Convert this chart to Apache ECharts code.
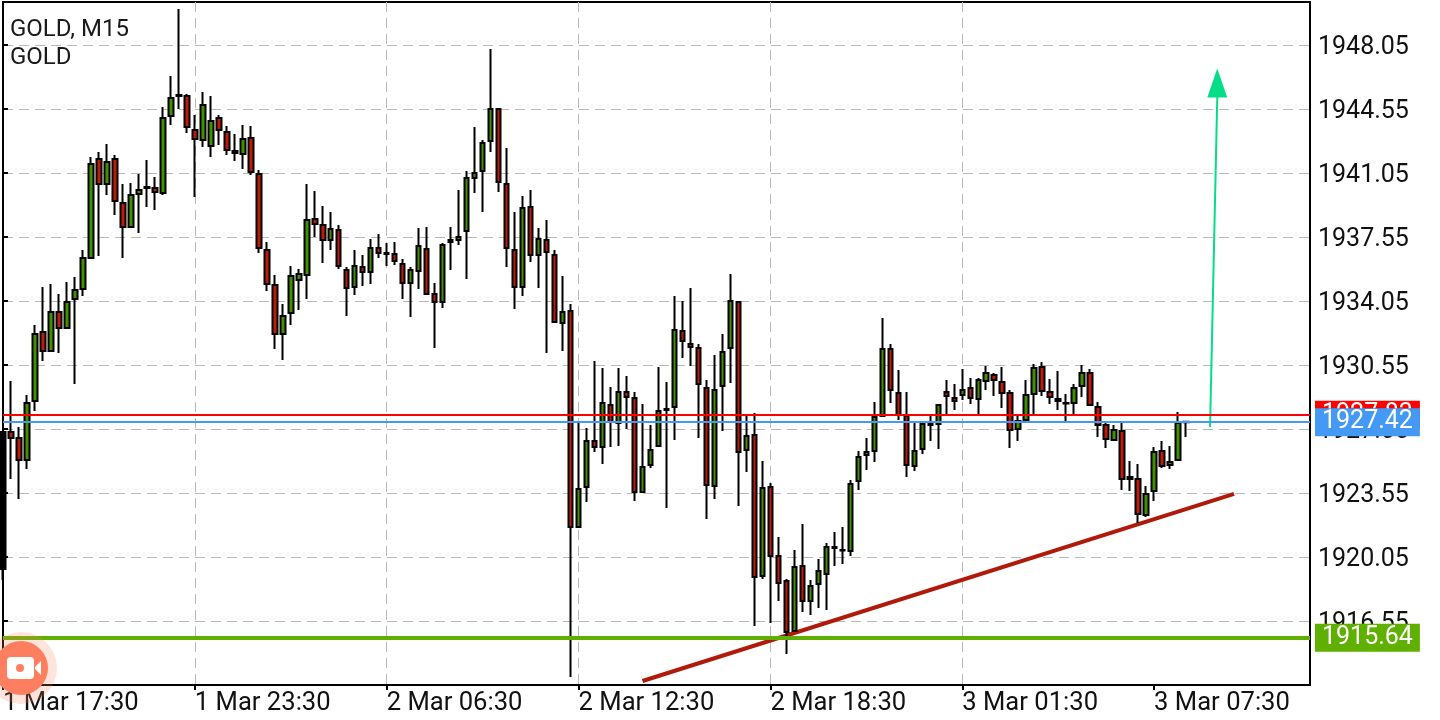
<!DOCTYPE html>
<html>
<head>
<meta charset="utf-8">
<title>GOLD, M15</title>
<script src="https://cdn.jsdelivr.net/npm/echarts@6/dist/echarts.min.js"></script>
<style>
  html, body { margin: 0; padding: 0; background: #fff; }
  #main { width: 1440px; height: 720px; }
</style>
</head>
<body>
<div id="main"></div>
<script>
// one row per M15 bar: open, close, low, high
const bars = [
  [1919.39,1926.89,1918.79,1926.94],[1926.89,1926.56,1924.31,1929.67],[1926.56,1925.35,1923.22,1927.16],[1925.35,1928.47,1924.86,1928.91],
  [1928.58,1932.25,1928.03,1932.74],[1932.35,1931.32,1930.77,1934.81],[1931.32,1933.45,1931.26,1934.98],[1933.45,1932.57,1931.21,1934.43],
  [1932.57,1933.99,1932.52,1935.09],[1934.16,1934.65,1929.51,1935.36],[1934.71,1936.40,1934.32,1936.84],[1936.40,1941.54,1936.35,1941.92],
  [1941.81,1940.45,1936.51,1942.20],[1940.45,1941.65,1939.85,1942.64],[1941.81,1939.52,1938.75,1942.03],[1939.41,1938.10,1936.40,1940.45],
  [1938.10,1939.85,1938.04,1940.50],[1939.90,1940.12,1937.77,1940.99],[1940.23,1940.28,1939.19,1941.76],[1940.23,1940.01,1939.03,1940.83],
  [1939.96,1944.06,1939.85,1944.66],[1944.17,1945.15,1943.67,1946.36],[1945.26,1945.32,1944.55,1950.02],[1945.26,1943.57,1943.24,1945.37],
  [1943.40,1942.91,1939.74,1944.22],[1942.85,1944.77,1942.47,1945.48],[1942.53,1943.89,1941.92,1945.26],[1944.06,1943.40,1942.58,1944.22],
  [1943.29,1942.31,1942.03,1943.62],[1942.25,1942.14,1941.71,1943.18],[1942.09,1942.91,1941.27,1943.67],[1942.96,1941.10,1940.94,1943.62],
  [1940.99,1936.95,1936.68,1941.21],[1936.84,1934.98,1934.60,1937.28],[1934.92,1932.25,1931.42,1935.47],[1932.25,1933.23,1930.82,1933.88],
  [1933.39,1935.42,1932.74,1935.96],[1935.20,1935.53,1933.56,1935.80],[1935.47,1938.48,1934.16,1940.45],[1938.53,1938.26,1937.55,1940.06],
  [1938.20,1937.39,1936.13,1939.25],[1937.39,1937.99,1936.84,1938.92],[1937.93,1935.96,1935.80,1938.20],[1935.75,1934.76,1933.23,1935.91],
  [1934.81,1935.96,1934.38,1936.84],[1935.91,1935.63,1934.87,1936.57],[1935.63,1936.95,1934.98,1937.44],[1936.95,1936.68,1936.40,1937.71],
  [1936.68,1936.62,1935.96,1937.22],[1936.62,1936.24,1936.02,1937.28],[1936.07,1935.03,1934.16,1936.35],[1935.03,1935.75,1933.17,1935.91],
  [1935.69,1937.06,1934.71,1938.04],[1936.89,1934.43,1934.38,1938.10],[1934.43,1933.99,1931.48,1935.03],[1933.99,1937.11,1933.67,1937.22],
  [1937.28,1937.39,1935.75,1938.10],[1937.39,1937.55,1937.11,1940.12],[1937.88,1940.78,1935.25,1941.16],[1940.78,1941.05,1939.96,1943.57],
  [1941.16,1942.69,1938.92,1942.85],[1942.80,1944.55,1942.20,1947.83],[1944.55,1940.56,1940.01,1944.60],[1940.45,1936.95,1935.91,1942.42],
  [1936.84,1934.81,1933.61,1938.92],[1934.81,1939.13,1934.32,1939.79],[1939.19,1936.57,1936.18,1940.12],[1936.57,1937.44,1934.76,1938.04],
  [1937.39,1936.73,1931.21,1938.48],[1936.57,1932.90,1932.85,1936.84],[1932.85,1933.45,1931.32,1935.42],[1933.50,1921.69,1913.49,1933.88],
  [1921.69,1923.77,1921.64,1927.38],[1923.88,1926.39,1923.06,1927.10],[1926.39,1926.07,1925.79,1930.77],[1926.07,1928.47,1925.13,1930.39],
  [1928.36,1927.43,1926.07,1929.35],[1927.38,1929.07,1926.12,1930.39],[1929.07,1928.80,1927.05,1929.95],[1928.75,1923.60,1923.11,1929.07],
  [1923.60,1924.97,1923.55,1928.42],[1925.08,1925.90,1924.92,1927.27],[1926.12,1928.03,1926.07,1930.44],[1928.09,1928.14,1922.73,1929.62],
  [1928.25,1932.46,1926.45,1934.32],[1932.41,1931.86,1930.93,1934.05],[1931.70,1931.53,1930.50,1934.76],[1931.48,1929.51,1926.56,1931.70],
  [1929.29,1923.99,1922.13,1929.73],[1923.93,1929.18,1923.22,1931.10],[1929.40,1931.26,1926.94,1932.25],[1931.48,1934.05,1929.57,1935.53],
  [1933.99,1925.79,1922.84,1934.05],[1925.90,1926.67,1924.70,1927.87],[1926.72,1918.96,1916.27,1927.92],[1919.01,1923.82,1918.85,1925.30],
  [1923.88,1920.10,1916.44,1924.10],[1920.10,1918.63,1917.64,1921.14],[1918.74,1915.95,1914.75,1918.85],[1916.00,1919.50,1915.95,1920.43],
  [1919.56,1917.64,1917.04,1921.85],[1917.64,1918.46,1916.88,1918.79],[1918.57,1919.28,1917.26,1919.94],[1919.12,1920.60,1917.15,1920.81],
  [1920.60,1920.54,1919.56,1921.42],[1920.43,1920.40,1919.67,1921.69],[1920.38,1924.04,1920.10,1924.26],[1924.20,1925.52,1923.71,1925.85],
  [1925.63,1925.79,1924.81,1926.56],[1925.85,1927.71,1925.25,1928.53],[1927.76,1931.42,1927.71,1933.12],[1931.42,1929.18,1928.47,1931.70],
  [1929.02,1927.81,1927.54,1930.28],[1927.76,1925.08,1924.42,1929.07],[1925.03,1925.85,1924.75,1927.38],[1925.96,1927.32,1925.68,1927.38],
  [1927.32,1927.27,1926.39,1927.87],[1927.32,1928.36,1925.96,1928.42],[1929.07,1928.85,1927.87,1929.73],[1928.75,1928.58,1928.09,1929.51],
  [1928.91,1929.18,1928.64,1930.33],[1929.29,1928.75,1928.42,1929.84],[1928.69,1929.73,1927.87,1929.84],[1929.67,1930.11,1929.18,1930.50],
  [1930.00,1929.73,1928.85,1930.11],[1929.62,1929.02,1928.20,1930.44],[1929.02,1926.99,1926.01,1929.18],[1927.05,1927.49,1926.39,1927.76],
  [1927.54,1928.91,1927.49,1929.73],[1928.96,1930.39,1927.87,1930.60],[1930.44,1929.13,1928.85,1930.71],[1929.07,1928.80,1928.42,1929.78],
  [1928.69,1928.58,1928.09,1930.22],[1928.47,1928.44,1927.43,1928.96],[1928.47,1929.29,1927.81,1929.51],[1929.40,1930.11,1928.80,1930.55],
  [1930.11,1928.36,1928.31,1930.33],[1928.25,1927.27,1926.61,1928.53],[1927.27,1926.50,1926.01,1927.38],[1926.45,1926.99,1926.39,1927.27],
  [1926.94,1924.31,1923.71,1927.38],[1924.42,1924.31,1923.66,1925.30],[1924.31,1922.40,1921.91,1925.13],[1922.35,1923.49,1922.24,1923.93],
  [1923.66,1925.79,1923.11,1926.07],[1925.85,1925.03,1924.92,1926.39],[1925.08,1925.25,1924.86,1926.12],[1925.35,1927.38,1925.30,1927.98],
  [1927.45,1927.42,1926.61,1927.46]
];

const xLabels = ['1 Mar 17:30', '1 Mar 23:30', '2 Mar 06:30', '2 Mar 12:30', '2 Mar 18:30', '3 Mar 01:30', '3 Mar 07:30'];
const xLabelBars = [0, 24, 48, 72, 96, 120, 144];

const redLevel = 1927.83;
const blueLevel = 1927.42;
const greenLevel = 1915.64;

// drawn objects, [bar, price]
const trendLine = [[80, 1913.27], [154, 1923.5]];
const arrowLine = [[151, 1927.16], [151.9, 1945.2]];
const arrowHead = [[151.9, 1945.97]];

const font = 'Roboto';
const gridLine = { show: true, showMinLine: false, showMaxLine: false, lineStyle: { color: '#b8b8b8', width: 1, type: [10, 6] } };

function tag(color) {
  return {
    show: true,
    position: 'end',
    distance: 5,
    formatter: p => p.value.toFixed(2),
    color: '#fff',
    fontFamily: font,
    fontSize: 25,
    backgroundColor: color,
    padding: [4, 7, 0, 7],
    lineHeight: 24
  };
}

function level(value, color, width) {
  return {
    yAxis: value,
    lineStyle: { color: color, width: width, type: 'solid' },
    label: tag(color)
  };
}

// the first bar is cut by the left border, only black shows there
function barItem(b, i) {
  const item = { value: [i].concat(b) };
  if (i === 0) item.itemStyle = { color: '#000' };
  return item;
}

const chart = echarts.init(document.getElementById('main'));

chart.setOption({
  animation: false,
  backgroundColor: '#fff',
  title: {
    text: 'GOLD, M15\nGOLD',
    left: 5,
    top: 11,
    textStyle: { fontFamily: font, fontWeight: 'normal', fontSize: 24, lineHeight: 28, color: '#1a1a1a' }
  },
  grid: { left: 2, top: 2, right: 130, bottom: 35, show: true, borderColor: '#000', borderWidth: 2 },
  xAxis: {
    type: 'value',
    min: 0,
    max: 163.5,
    interval: 8,
    axisLine: { lineStyle: { color: '#000', width: 2 } },
    axisTick: { show: true, length: 5, customValues: xLabelBars, lineStyle: { color: '#000', width: 2 } },
    axisLabel: {
      customValues: xLabelBars,
      formatter: v => xLabels[v / 24],
      align: 'left',
      margin: 6,
      fontFamily: font,
      fontSize: 25.6,
      color: '#111'
    },
    splitLine: gridLine
  },
  yAxis: {
    type: 'value',
    position: 'right',
    min: 1913.05,
    max: 1950.4,
    interval: 3.5,
    axisLine: { show: true, lineStyle: { color: '#000', width: 2 } },
    axisTick: { show: true, length: 5, lineStyle: { color: '#000', width: 2 } },
    axisLabel: {
      showMinLabel: false,
      showMaxLabel: false,
      formatter: v => '{p|' + v.toFixed(2) + '}',
      margin: 8,
      rich: {
        p: { fontFamily: font, fontSize: 25, color: '#111', padding: [6, 0, 0, 0] }
      }
    },
    splitLine: gridLine
  },
  series: [
    {
      // red and blue sit behind the candles
      type: 'line',
      z: 1,
      data: [],
      markLine: {
        silent: true,
        symbol: 'none',
        animation: false,
        data: [level(redLevel, '#ff0000', 2), level(blueLevel, '#4499f5', 2)]
      }
    },
    {
      type: 'line',
      z: 2,
      data: trendLine,
      showSymbol: false,
      lineStyle: { color: '#b01a0a', width: 4 }
    },
    {
      type: 'candlestick',
      z: 3,
      barWidth: 5,
      data: bars.map(barItem),
      itemStyle: {
        color: '#428f00',
        color0: '#c01a0a',
        borderColor: '#000',
        borderColor0: '#000',
        borderColorDoji: '#000',
        borderWidth: 2
      }
    },
    {
      type: 'line',
      z: 4,
      data: arrowLine,
      showSymbol: false,
      lineStyle: { color: '#06dd86', width: 2 }
    },
    {
      type: 'scatter',
      z: 4,
      data: arrowHead,
      symbol: 'triangle',
      symbolSize: [20, 29],
      itemStyle: { color: '#06dd86', opacity: 1 }
    },
    {
      type: 'line',
      z: 5,
      data: [],
      markLine: {
        silent: true,
        symbol: 'none',
        animation: false,
        data: [level(greenLevel, '#5fb000', 4)]
      }
    }
  ],
  graphic: [
    { type: 'circle', z: 100, shape: { cx: 21, cy: 668, r: 36 }, style: { fill: 'rgba(255,130,90,0.22)' } },
    { type: 'circle', z: 101, shape: { cx: 21, cy: 668, r: 27 }, style: { fill: '#fd7f5f' } },
    { type: 'rect', z: 102, shape: { x: 7, y: 657, width: 27, height: 22, r: 4 }, style: { fill: '#fff' } },
    { type: 'polygon', z: 102, shape: { points: [[35, 667], [41, 661], [41, 675], [35, 669]] }, style: { fill: '#fff' } },
    { type: 'circle', z: 103, shape: { cx: 20, cy: 668, r: 4 }, style: { fill: '#fd7f5f' } }
  ]
});
</script>
</body>
</html>
